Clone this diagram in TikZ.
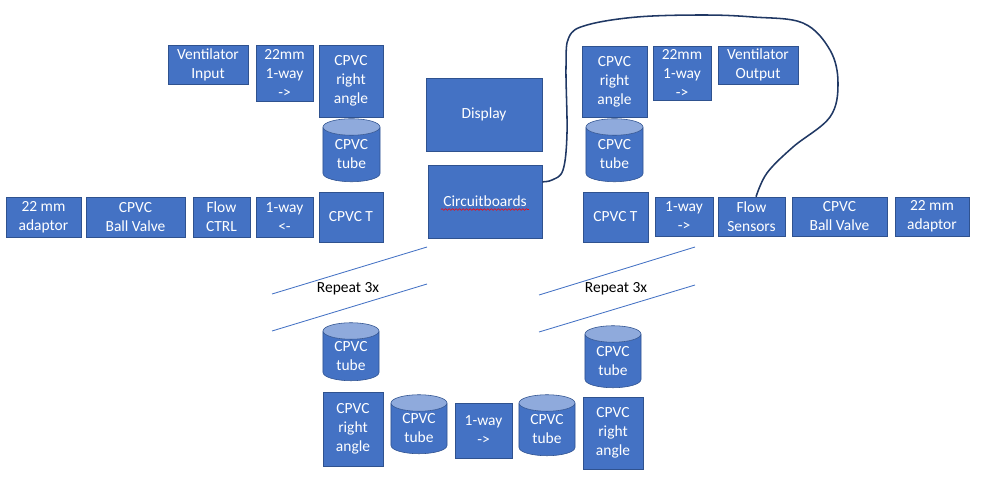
\documentclass[tikz,border=0pt]{standalone}
\usepackage{fontspec}
\setmainfont{Carlito}
\usetikzlibrary{shapes.geometric,decorations.pathmorphing}
\definecolor{pipe}{RGB}{68,114,196}
\definecolor{rim}{RGB}{47,82,143}
\definecolor{cap}{RGB}{143,170,220}
\definecolor{cable}{RGB}{32,56,100}

\begin{document}
\begin{tikzpicture}[x=0.025cm,y=-0.025cm,
  part/.style={draw=rim,fill=pipe,text=white,font=\fontsize{11}{13.5}\selectfont,align=center,inner sep=1pt},
  tube/.style={cylinder,shape border rotate=90,aspect=0.5,draw=rim,cylinder uses custom fill,cylinder body fill=pipe,cylinder end fill=cap,text=white,font=\fontsize{11}{13.5}\selectfont,align=center,inner sep=0pt},
  slash/.style={draw=pipe,line width=.6pt},
  cable/.style={draw=cable,line width=1.1pt}]
\useasboundingbox (0,0) rectangle (982,482);
% inlet side
\node[part,minimum width=2cm,minimum height=.975cm] (vin) at (208,64.5) {Ventilator\\Input};
\node[part,minimum width=1.425cm,minimum height=1.4cm] (inchk) at (284.5,73) {22mm\\1-way\\->};
\node[part,minimum width=1.6cm,minimum height=1.8cm] (inrt) at (351,81) {CPVC\\right\\angle};
\node[tube,minimum width=1.425cm,minimum height=1.575cm] (intube) at (351.5,154.5) {CPVC\\tube};
\node[part,minimum width=1.6cm,minimum height=1.25cm] (inT) at (351,217) {CPVC T};
\node[part,minimum width=1.425cm,minimum height=1cm] (inow) at (284.5,217) {1-way\\<-};
\node[part,minimum width=1.425cm,minimum height=1cm] (fctrl) at (221.5,217) {Flow\\CTRL};
\node[part,minimum width=2.475cm,minimum height=1cm] (lvalve) at (135.5,217) {CPVC\\Ball Valve};
\node[part,minimum width=1.875cm,minimum height=1cm] (ladapt) at (43.5,217) {22 mm\\adaptor};
% electronics
\node[part,minimum width=2.9cm,minimum height=1.825cm] (disp) at (484,114.5) {Display};
\node[part,minimum width=2.85cm,minimum height=1.825cm] (cboards) at (485,201.5) {Circuitboards};
\draw[red,line width=.4pt,decorate,decoration={snake,amplitude=.6pt,segment length=2.5pt}] ([xshift=-1.1cm,yshift=-.2cm]cboards.center) -- ++(88,0);
% outlet side
\node[part,minimum width=1.625cm,minimum height=1.775cm] (outrt) at (614.5,81.5) {CPVC\\right\\angle};
\node[part,minimum width=1.45cm,minimum height=1.35cm] (outchk) at (682,73) {22mm\\1-way\\->};
\node[part,minimum width=2cm,minimum height=.95cm] (vout) at (758,65) {Ventilator\\Output};
\node[tube,minimum width=1.425cm,minimum height=1.575cm] (outtube) at (614.5,154.5) {CPVC\\tube};
\node[part,minimum width=1.625cm,minimum height=1.25cm] (outT) at (615.5,217) {CPVC T};
\node[part,minimum width=1.45cm,minimum height=.975cm] (outow) at (684,216.5) {1-way\\->};
\node[part,minimum width=1.675cm,minimum height=.975cm] (fsens) at (751.5,216.5) {Flow\\Sensors};
\node[part,minimum width=2.375cm,minimum height=.975cm] (rvalve) at (839.5,216.5) {CPVC\\Ball Valve};
\node[part,minimum width=1.85cm,minimum height=.975cm] (radapt) at (932,216.5) {22 mm\\adaptor};
% repeat marks
\draw[slash] (272,294) -- (427,247);
\draw[slash] (272,331) -- (427,284);
\node[font=\fontsize{11}{13.5}\selectfont] (lrep) at (348,289) {Repeat 3x};
\draw[slash] (539,295) -- (695,247);
\draw[slash] (539,332) -- (695,285);
\node[font=\fontsize{11}{13.5}\selectfont] (rrep) at (616,289) {Repeat 3x};
% bottom loop
\node[tube,minimum width=1.4cm,minimum height=1.45cm] (ltube) at (351,356) {CPVC\\tube};
\node[part,minimum width=1.5cm,minimum height=1.85cm] (lrt) at (353,429) {CPVC\\right\\angle};
\node[tube,minimum width=1.4cm,minimum height=1.475cm] (btubea) at (419,428.5) {CPVC\\tube};
\node[part,minimum width=1.425cm,minimum height=1.375cm] (bow) at (483.5,430.5) {1-way\\->};
\node[tube,minimum width=1.4cm,minimum height=1.525cm] (btubeb) at (547,429.5) {CPVC\\tube};
\node[tube,minimum width=1.4cm,minimum height=1.55cm] (rtube) at (613,361) {CPVC\\tube};
\node[part,minimum width=1.5cm,minimum height=1.8cm] (rrt) at (613,433) {CPVC\\right\\angle};
% sensor wire
\draw[cable] plot[smooth,tension=.6] coordinates {(cboards.19) (552,180) (563,170) (567,133) (566,67) (569,37) (587,25) (637,17) (703,15) (753,17) (803,23) (830,50) (838,83) (830,117) (793,147) (767,173) (fsens.77)};
\end{tikzpicture}
\end{document}
